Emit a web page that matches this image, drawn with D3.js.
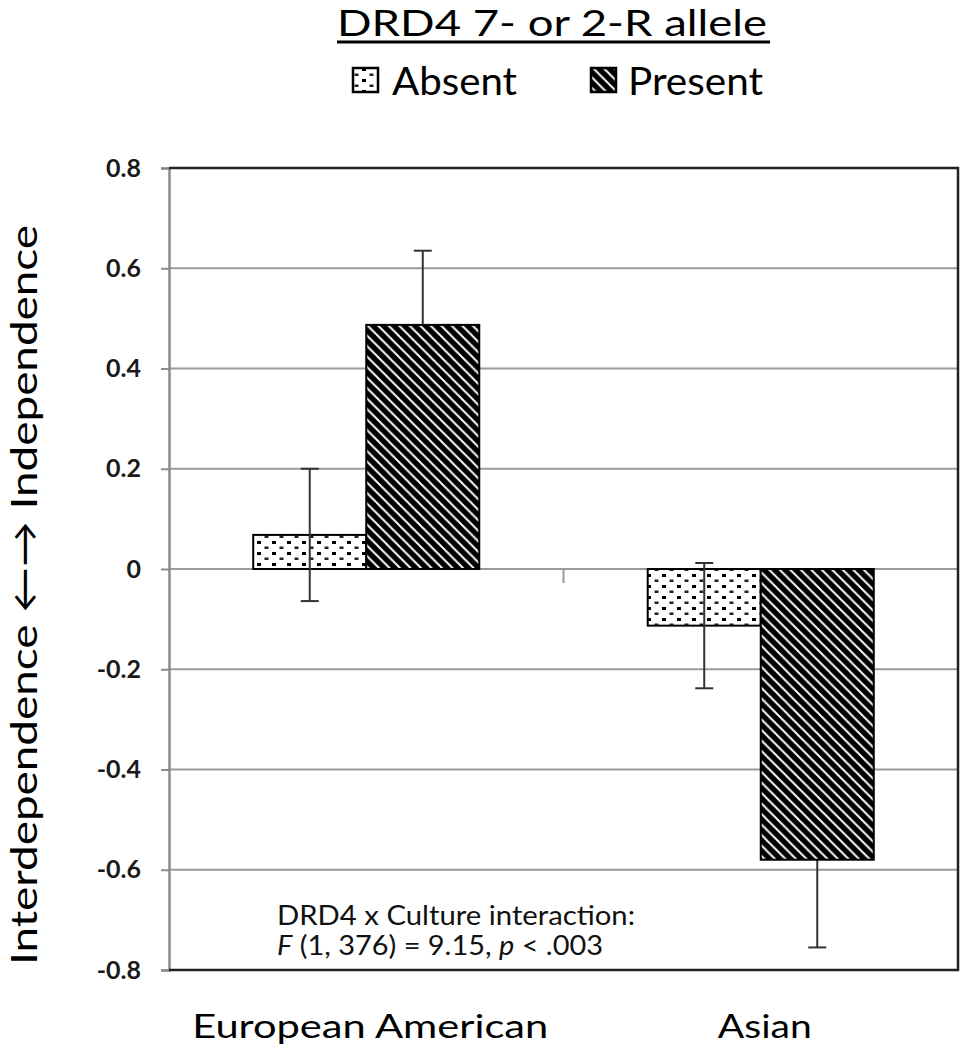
<!DOCTYPE html>
<html>
<head>
<meta charset="utf-8">
<script src="https://cdn.jsdelivr.net/npm/d3@7"></script>
<style>
  html, body { margin: 0; padding: 0; background: #fff; }
  svg { display: block; font-family: Lato, "Open Sans", sans-serif; }
</style>
</head>
<body>
<script>
// ---- data ----
const categories = ["European American", "Asian"];
const seriesNames = ["Absent", "Present"];
const absentValues = [0.068, -0.113];
const presentValues = [0.487, -0.580];
const absentErrors = [0.132, 0.125];
const presentErrors = [0.148, 0.175];
const yTicks = [0.8, 0.6, 0.4, 0.2, 0, -0.2, -0.4, -0.6, -0.8];
const yTickLabels = ["0.8", "0.6", "0.4", "0.2", "0", "-0.2", "-0.4", "-0.6", "-0.8"];

(function () {
const W = 961, H = 1050;
const pL = 169, pR = 958, pT = 168, pB = 970;

const svg = d3.select("body").append("svg").attr("width", W).attr("height", H);
const defs = svg.append("defs");

// dotted pattern
const pd = defs.append("pattern").attr("id", "dots").attr("patternUnits", "userSpaceOnUse")
  .attr("width", 15).attr("height", 11);
pd.append("rect").attr("width", 15).attr("height", 11).attr("fill", "#fff");
pd.append("rect").attr("x", 2).attr("y", 2).attr("width", 4).attr("height", 3).attr("fill", "#000");
pd.append("rect").attr("x", 9.5).attr("y", 7.5).attr("width", 4).attr("height", 2.5).attr("fill", "#222");

// diagonal pattern
const ps = defs.append("pattern").attr("id", "diag").attr("patternUnits", "userSpaceOnUse")
  .attr("width", 10.5).attr("height", 10.5);
ps.append("rect").attr("width", 10.5).attr("height", 10.5).attr("fill", "#000");
ps.append("path").attr("d", "M-5.25,-5.25 L15.75,15.75 M-5.25,5.25 L5.25,15.75 M5.25,-5.25 L15.75,5.25")
  .attr("stroke", "#fff").attr("stroke-width", 1.9);

const fills = ["url(#dots)", "url(#diag)"];

// scales
const x0 = d3.scaleBand().domain(categories).range([pL, pR])
  .paddingInner(0.427).paddingOuter(0.2135);
const x1 = d3.scaleBand().domain(seriesNames).range([0, x0.bandwidth()]);
const y = d3.scaleLinear().domain([-0.8, 0.8]).range([pB, pT]);

// gridlines
svg.append("g").selectAll("line").data(yTicks).join("line")
  .attr("x1", pL).attr("x2", pR)
  .attr("y1", d => y(d)).attr("y2", d => y(d))
  .attr("stroke", "#9a9a9a").attr("stroke-width", 2);

// y axis
const yAxis = d3.axisLeft(y).tickValues(yTicks).tickSize(8)
  .tickFormat((d, i) => yTickLabels[i]);
const ya = svg.append("g").attr("transform", `translate(${pL},0)`).call(yAxis);
ya.select(".domain").attr("stroke", "#8a8a8a").attr("stroke-width", 2.5);
ya.selectAll(".tick line").attr("stroke", "#8a8a8a").attr("stroke-width", 2);
ya.selectAll(".tick text").attr("x", -28).attr("font-size", 25).attr("font-weight", "bold")
  .attr("fill", "#1a1a1a").attr("font-family", "Lato, sans-serif");

// category separator tick below zero line
const sep = (x0(categories[0]) + x0.bandwidth() + x0(categories[1])) / 2;
svg.append("g").selectAll("line").data([sep]).join("line")
  .attr("x1", d => d).attr("x2", d => d)
  .attr("y1", y(0)).attr("y2", y(0) + 14)
  .attr("stroke", "#999").attr("stroke-width", 2);

// bars & error bars
const rows = categories.map((c, i) => ({
  cat: c,
  vals: [
    { s: seriesNames[0], v: absentValues[i], e: absentErrors[i] },
    { s: seriesNames[1], v: presentValues[i], e: presentErrors[i] }
  ]
}));

const g = svg.append("g");
function drawErr(r, d) {
  const cx = x0(r.cat) + x1(d.s) + x1.bandwidth() / 2;
  const eg = g.append("g").attr("stroke", "#333").attr("stroke-width", 2);
  eg.append("line").attr("x1", cx).attr("x2", cx)
    .attr("y1", y(d.v + d.e)).attr("y2", y(d.v - d.e));
  [d.v + d.e, d.v - d.e].forEach(v => {
    eg.append("line").attr("x1", cx - 9).attr("x2", cx + 9)
      .attr("y1", y(v)).attr("y2", y(v));
  });
}
function drawBar(r, d, j) {
  g.append("rect")
    .attr("x", x0(r.cat) + x1(d.s)).attr("width", x1.bandwidth())
    .attr("y", y(Math.max(0, d.v))).attr("height", Math.abs(y(d.v) - y(0)))
    .attr("fill", fills[j]).attr("stroke", "#000").attr("stroke-width", 2);
}
// present error bars sit behind their (dark) bars; absent ones in front
rows.forEach(r => drawErr(r, r.vals[1]));
rows.forEach(r => r.vals.forEach((d, j) => drawBar(r, d, j)));
rows.forEach(r => drawErr(r, r.vals[0]));

// plot border (top, right, bottom dark)
svg.append("path")
  .attr("d", `M${pL},${pT} L${pR},${pT} L${pR},${pB} L${pL},${pB}`)
  .attr("fill", "none").attr("stroke", "#222").attr("stroke-width", 2.5);

// category labels
const catWidths = [356, 94];
svg.append("g").selectAll("text").data(categories).join("text")
  .attr("x", (d, i) => x0(d) + x0.bandwidth() / 2 - catWidths[i] / 2 + 4)
  .attr("y", 1038)
  .attr("font-size", 32)
  .attr("fill", "#000")
  .attr("textLength", (d, i) => catWidths[i])
  .attr("lengthAdjust", "spacingAndGlyphs")
  .text(d => d);

// y axis title
svg.append("text")
  .attr("transform", "translate(37,965) rotate(-90)")
  .attr("font-size", 37)
  .attr("fill", "#000")
  .attr("textLength", 740)
  .attr("lengthAdjust", "spacingAndGlyphs")
  .text("Interdependence \u2190\u2192 Independence");

// title
svg.append("text")
  .attr("x", 337).attr("y", 36)
  .attr("font-size", 37)
  .attr("fill", "#000")
  .attr("textLength", 430)
  .attr("lengthAdjust", "spacingAndGlyphs")
  .text("DRD4 7- or 2-R allele");
svg.append("line").attr("x1", 337).attr("x2", 770).attr("y1", 42).attr("y2", 42)
  .attr("stroke", "#000").attr("stroke-width", 3);

// legend
const legendX = [353, 591];
const legendTextX = [392, 628];
const legendTextW = [125, 135];
seriesNames.forEach((s, i) => {
  svg.append("rect").attr("x", legendX[i]).attr("y", 68).attr("width", 25).attr("height", 24)
    .attr("fill", fills[i]).attr("stroke", "#000").attr("stroke-width", 2.5);
  svg.append("text").attr("x", legendTextX[i]).attr("y", 95)
    .attr("font-size", 38).attr("fill", "#000")
    .attr("textLength", legendTextW[i]).attr("lengthAdjust", "spacingAndGlyphs")
    .text(s);
});

// annotation
svg.append("text").attr("x", 277).attr("y", 925).attr("font-size", 27).attr("fill", "#111")
  .attr("textLength", 358).attr("lengthAdjust", "spacingAndGlyphs")
  .text("DRD4 x Culture interaction:");
const ann = svg.append("text").attr("x", 277).attr("y", 955).attr("font-size", 27).attr("fill", "#111")
  .attr("textLength", 326).attr("lengthAdjust", "spacingAndGlyphs");
ann.append("tspan").attr("font-style", "italic").text("F");
ann.append("tspan").text(" (1, 376) = 9.15, ");
ann.append("tspan").attr("font-style", "italic").text("p");
ann.append("tspan").text(" < .003");
})();
</script>
</body>
</html>
